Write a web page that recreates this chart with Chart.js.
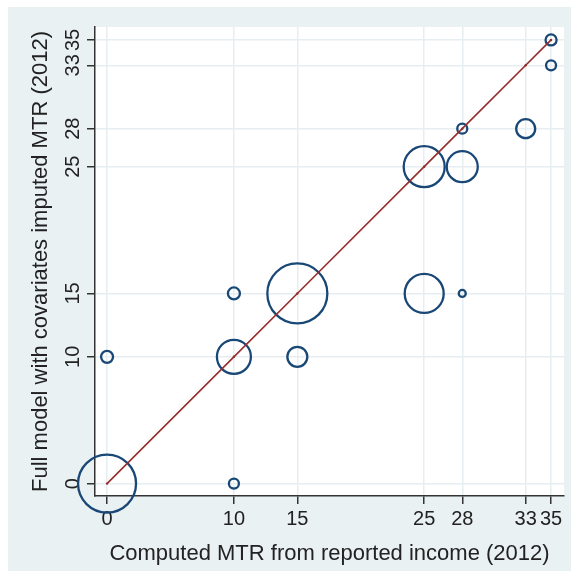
<!DOCTYPE html>
<html>
<head>
<meta charset="utf-8">
<script src="https://cdn.jsdelivr.net/npm/chart.js@4/dist/chart.umd.min.js"></script>
<style>
  html, body { margin: 0; padding: 0; background: #ffffff; }
  #panel { position: absolute; left: 8px; top: 7px; width: 563px; height: 564px; background: #eaf1f3; }
</style>
</head>
<body>
<div id="panel"><canvas id="chart" width="563" height="564"></canvas></div>
<script>
// Tick values used on both axes
const tickValues = [0, 10, 15, 25, 28, 33, 35];

// Bubbles: computed MTR (x), imputed MTR (y), bubble radius (px)
const bubbleX = [0, 0, 10, 10, 10, 15, 15, 25, 25, 28, 28, 28, 33, 35, 35];
const bubbleY = [0, 10, 0, 10, 15, 10, 15, 15, 25, 15, 25, 28, 28, 33, 35];
const bubbleR = [29, 6, 5, 17, 6, 10, 30, 19.5, 20.5, 3.5, 15.5, 5, 9.5, 5, 5.5];

// 45-degree reference line points
const lineVals = [0, 10, 15, 25, 28, 33, 35];

const navy = '#1a4876';
const red = '#962d2d';

const plotBg = {
    id: 'plotBg',
    beforeDraw(chart) {
        const { ctx, chartArea: a } = chart;
        ctx.save();
        ctx.fillStyle = '#ffffff';
        ctx.fillRect(a.left, a.top, a.right - a.left, a.bottom - a.top);
        ctx.restore();
    }
};

Chart.defaults.font.family = "'Liberation Sans', Arial, sans-serif";
Chart.defaults.color = '#222222';

new Chart(document.getElementById('chart'), {
    type: 'bubble',
    data: {
        datasets: [{
            type: 'line',
            data: lineVals.map(v => ({ x: v, y: v })),
            borderColor: red,
            borderWidth: 1.6,
            pointRadius: 1.2,
            pointBackgroundColor: red,
            pointBorderWidth: 0,
            fill: false,
            clip: false,
            order: 1
        }, {
            data: bubbleX.map((x, i) => ({ x: x, y: bubbleY[i], r: bubbleR[i] })),
            backgroundColor: 'rgba(0,0,0,0)',
            borderColor: navy,
            borderWidth: 2.3,
            clip: false,
            order: 2
        }]
    },
    options: {
        responsive: false,
        animation: false,
        layout: { autoPadding: false, padding: { top: 20, right: 7, left: 0, bottom: 0 } },
        plugins: { legend: { display: false }, tooltip: { enabled: false } },
        scales: {
            x: {
                type: 'linear',
                min: -0.95,
                max: 36.02,
                afterBuildTicks: s => { s.ticks = tickValues.map(v => ({ value: v })); },
                afterFit: s => { s.height = 75; },
                ticks: { autoSkip: false, maxRotation: 0, font: { size: 20 }, padding: 3, color: '#222' },
                grid: { color: '#e6eef1', lineWidth: 1.5, tickColor: '#333', tickLength: 8 },
                border: { color: '#333', width: 1.5 },
                title: { display: true, text: 'Computed MTR from reported income (2012)', font: { size: 22 }, color: '#222', padding: { top: 2, bottom: 4 } }
            },
            y: {
                type: 'linear',
                min: -0.98,
                max: 36.02,
                afterBuildTicks: s => { s.ticks = tickValues.map(v => ({ value: v })); },
                afterFit: s => { s.width = 87; },
                ticks: { autoSkip: false, minRotation: 90, maxRotation: 90, crossAlign: 'center', font: { size: 20 }, padding: 2, color: '#222' },
                grid: { color: '#e6eef1', lineWidth: 1.5, tickColor: '#333', tickLength: 8 },
                border: { color: '#333', width: 1.5 },
                title: { display: true, text: 'Full model with covariates imputed MTR (2012)', font: { size: 22 }, color: '#222', padding: { top: 20 } }
            }
        }
    },
    plugins: [plotBg]
});
</script>
</body>
</html>
